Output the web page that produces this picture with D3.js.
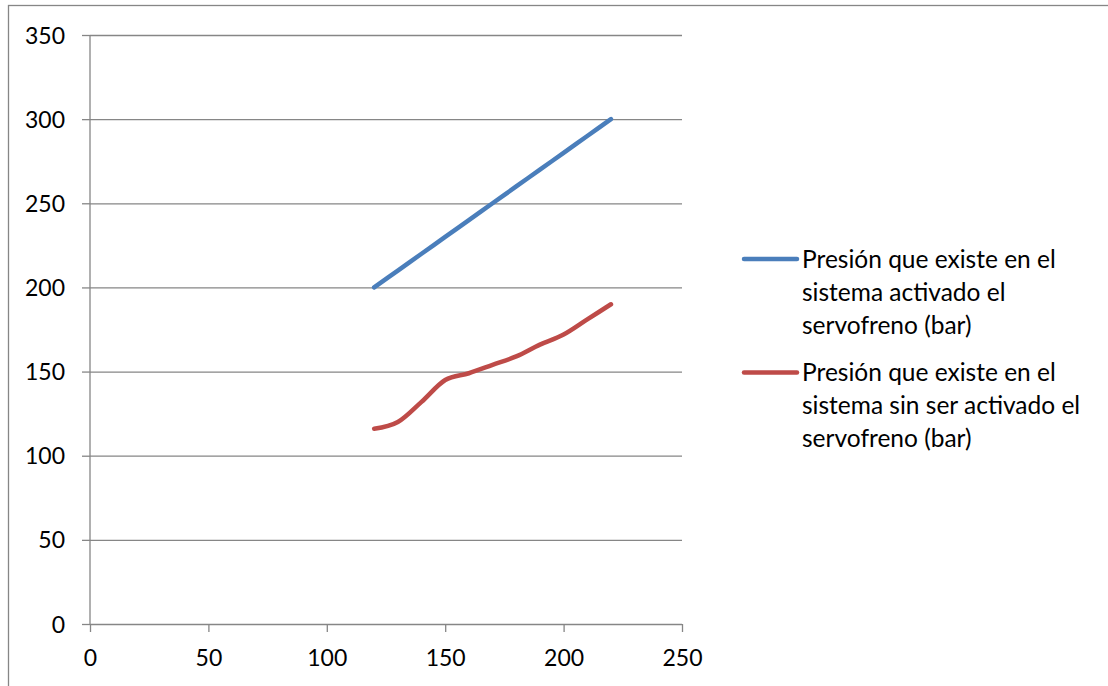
<!DOCTYPE html>
<html>
<head>
<meta charset="utf-8">
<script src="https://cdn.jsdelivr.net/npm/d3@7"></script>
<style>
  html, body { margin: 0; padding: 0; background: #fff; }
  svg { display: block; }
  text { font-family: Lato, "Open Sans", sans-serif; fill: #000; }
</style>
</head>
<body>
<svg id="chart" width="1108" height="686"></svg>
<script>
// Brake pressure measurements (bar) against input force
const xValues = [120, 130, 140, 150, 160, 170, 180, 190, 200, 210, 220];
const withServo = [200, 210, 220, 230, 240, 250, 260, 270, 280, 290, 300];
const withoutServo = [116, 120, 132, 145, 149, 154, 159, 166, 172, 181, 190];
const xTicks = [0, 50, 100, 150, 200, 250];
const yTicks = [0, 50, 100, 150, 200, 250, 300, 350];
const seriesNames = [
  ["Presión que existe en el", "sistema activado el", "servofreno (bar)"],
  ["Presión que existe en el", "sistema sin ser activado el", "servofreno (bar)"]
];
const seriesColors = ["#4A7EBB", "#BE4B48"];

const svg = d3.select("#chart");
const gridColor = "#868686";
const axisFont = 23;
const legendFont = 24.5;

// outer chart frame
svg.append("rect")
  .attr("x", 8.5).attr("y", 5.5)
  .attr("width", 1200).attr("height", 800)
  .attr("fill", "none").attr("stroke", gridColor).attr("stroke-width", 1.3);

const plot = { left: 90, right: 682, top: 35, bottom: 624 };
const x = d3.scaleLinear().domain([0, 250]).range([plot.left, plot.right]);
const y = d3.scaleLinear().domain([0, 350]).range([plot.bottom, plot.top]);

// horizontal gridlines with left tick stubs and labels
const yAxis = svg.append("g")
  .attr("transform", `translate(${plot.left},0)`)
  .call(d3.axisLeft(y).tickValues(yTicks).tickSize(8).tickPadding(17).tickFormat(d3.format("d")));
yAxis.select(".domain").remove();
yAxis.selectAll(".tick line")
  .attr("stroke", gridColor).attr("stroke-width", 1.3);
yAxis.selectAll(".tick").append("line")
  .attr("x1", 0).attr("x2", plot.right - plot.left)
  .attr("stroke", gridColor).attr("stroke-width", 1.3);
yAxis.selectAll(".tick text")
  .attr("font-size", axisFont).attr("font-family", "Lato, 'Open Sans', sans-serif")
  .attr("fill", "#000").attr("dy", "0.35em");

// x axis with downward ticks
const xAxis = svg.append("g")
  .attr("transform", `translate(0,${plot.bottom})`)
  .call(d3.axisBottom(x).tickValues(xTicks).tickSize(8).tickPadding(18).tickFormat(d3.format("d")));
xAxis.select(".domain").remove();
xAxis.selectAll(".tick line").attr("stroke", gridColor).attr("stroke-width", 1.3);
xAxis.selectAll(".tick text")
  .attr("font-size", axisFont).attr("font-family", "Lato, 'Open Sans', sans-serif")
  .attr("fill", "#000");

// vertical axis line
svg.append("line")
  .attr("x1", plot.left).attr("x2", plot.left)
  .attr("y1", plot.top).attr("y2", plot.bottom)
  .attr("stroke", gridColor).attr("stroke-width", 1.3);

// series lines
const line = d3.line()
  .x((d, i) => x(xValues[i]))
  .y(d => y(d))
  .curve(d3.curveCardinal.tension(0));

[withServo, withoutServo].forEach((vals, k) => {
  svg.append("path")
    .datum(vals)
    .attr("d", line)
    .attr("fill", "none")
    .attr("stroke", seriesColors[k])
    .attr("stroke-width", 4.5)
    .attr("stroke-linecap", "round")
    .attr("stroke-linejoin", "round");
});

// legend
const legend = svg.append("g");
const legendTop = [259, 372.5];
seriesNames.forEach((lines, k) => {
  const g = legend.append("g").attr("transform", `translate(0,${legendTop[k]})`);
  g.append("line")
    .attr("x1", 744).attr("x2", 797).attr("y1", 0).attr("y2", 0)
    .attr("stroke", seriesColors[k]).attr("stroke-width", 4.5)
    .attr("stroke-linecap", "round");
  lines.forEach((t, j) => {
    g.append("text")
      .attr("x", 802).attr("y", j * 33)
      .attr("dy", "0.35em")
      .attr("font-size", legendFont)
      .text(t);
  });
});
</script>
</body>
</html>
